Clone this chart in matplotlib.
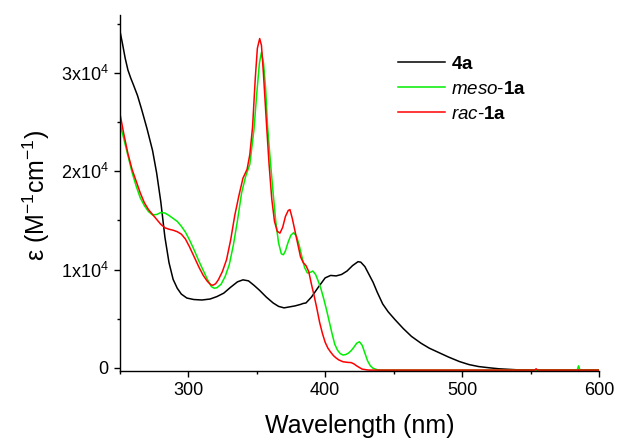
import matplotlib
matplotlib.use("Agg")
import matplotlib.pyplot as plt
from matplotlib.ticker import MultipleLocator, FuncFormatter

plt.rcParams["font.family"] = ["Liberation Sans", "DejaVu Sans"]
plt.rcParams["mathtext.fontset"] = "custom"
plt.rcParams["mathtext.rm"] = "Liberation Sans"
plt.rcParams["mathtext.it"] = "Liberation Sans:italic"
plt.rcParams["mathtext.bf"] = "Liberation Sans:bold"

# 4a
wl_4a = [250, 252, 254, 256, 258, 260, 263, 266, 270, 274, 277, 280, 283, 286,
         289, 292, 295, 299, 304, 310, 316, 321, 326, 331, 336, 340, 344, 348,
         352, 357, 362, 366, 370, 374, 378, 382, 384, 386, 390, 395, 400, 404,
         408, 412, 416, 420, 424, 426, 429, 432, 435, 438, 442, 446, 451, 457,
         463, 470, 476, 483, 490, 498, 505, 512, 520, 527, 540, 560, 600]
eps_4a = [34400, 33000, 31500, 30300, 29500, 28800, 27700, 26300, 24300, 22100,
          19800, 16900, 13300, 10700, 9000, 8100, 7500, 7100, 6950, 6900, 7000,
          7250, 7600, 8200, 8750, 8950, 8850, 8400, 7900, 7200, 6600, 6250, 6100,
          6200, 6300, 6450, 6550, 6600, 7200, 8200, 9150, 9400, 9350, 9500, 9850,
          10400, 10800, 10750, 10300, 9500, 8700, 7700, 6500, 5700, 4900, 4000,
          3200, 2500, 2000, 1550, 1100, 640, 330, 130, 0, -100, -200, -230, -230]

# meso-1a
wl_meso = [250, 253, 256, 259, 262, 265, 268, 271, 274, 277, 280, 283, 286, 289,
           292, 295, 298, 301, 304, 308, 311, 314, 317, 319, 321, 324, 327, 330,
           333, 336, 339, 342, 345, 348, 350, 352, 353.5, 355, 356.5, 358, 360,
           362, 364, 366, 368, 369.5, 371, 373, 375, 377, 379, 381, 383, 385, 387,
           389, 391, 393, 395, 397, 399, 401, 403, 405, 407, 409, 411, 413, 415,
           417, 419, 421, 423, 425, 427, 429, 431, 433, 435, 438, 440, 584, 585,
           586, 600]
eps_meso = [25000, 23300, 21600, 19900, 18500, 17300, 16500, 15900, 15550, 15600,
            15800, 15750, 15500, 15200, 14900, 14400, 13800, 13000, 12100, 10800,
            9900, 9000, 8250, 8100, 8150, 8500, 9300, 10500, 12500, 15000, 17800,
            19500, 20700, 24200, 27800, 31000, 32100, 31000, 28500, 24500, 21000,
            17800, 14800, 12700, 11600, 11500, 11900, 12800, 13500, 13750, 13400,
            12500, 11300, 10200, 9650, 9700, 9850, 9500, 8800, 8000, 7000, 5900,
            4700, 3500, 2400, 1800, 1450, 1300, 1350, 1500, 1750, 2100, 2500, 2650,
            2300, 1500, 700, 200, -50, -200, -230, -230, 200, -230, -230]

# rac-1a
wl_rac = [250, 253, 256, 259, 262, 265, 268, 271, 274, 277, 280, 283, 286, 289,
          292, 295, 298, 301, 304, 308, 311, 314, 316.5, 318, 320, 322, 325, 328,
          331, 334, 337, 340, 343, 345, 347, 349, 350.5, 352.2, 353.5, 355, 357,
          359, 361, 363, 365, 367, 369, 371, 373, 374.3, 376, 378, 380, 382, 384,
          386, 388, 390, 392, 394, 396, 398, 400, 402, 404, 406, 408, 410, 413,
          416, 419, 421, 423, 425, 427, 430, 432, 553, 554, 555, 600]
eps_rac = [26000, 23800, 21800, 20200, 19000, 17800, 16800, 16100, 15600, 15100,
           14600, 14250, 14100, 14000, 13850, 13600, 13100, 12300, 11400, 10200,
           9400, 8800, 8450, 8400, 8550, 8950, 9800, 11000, 13000, 15500, 17500,
           19300, 20200, 21700, 24500, 29500, 32500, 33500, 32800, 29800, 25200,
           20800, 17200, 14900, 13900, 13700, 14300, 15400, 16000, 16100, 15200,
           13900, 12600, 11300, 10700, 10400, 9800, 8500, 7300, 6000, 4600, 3500,
           2600, 2000, 1600, 1250, 1000, 800, 620, 560, 530, 400, 200, 30, -130,
           -200, -230, -230, -100, -230, -230]


def sci_label(v, pos):
    n = int(round(v / 1e4))
    if n == 0:
        return "0"
    return f"{n}x10$^{{4}}$"


fig = plt.figure(figsize=(6.17, 4.40), dpi=100)
ax = fig.add_axes([0.194, 0.156, 0.777, 0.810])

ax.plot(wl_4a, eps_4a, color="black", lw=1.1, label=r"$\mathbf{4a}$")
ax.plot(wl_meso, eps_meso, color="#00ee00", lw=1.1,
        label=r"$\mathit{meso}$-$\mathbf{1a}$")
ax.plot(wl_rac, eps_rac, color="#ff0000", lw=1.1,
        label=r"$\mathit{rac}$-$\mathbf{1a}$")

ax.set_xlim(250, 600)
ax.set_ylim(-360, 35900)
ax.spines["top"].set_visible(False)
ax.spines["right"].set_visible(False)
for s in ("left", "bottom"):
    ax.spines[s].set_linewidth(1.0)

ax.xaxis.set_major_locator(MultipleLocator(100))
ax.xaxis.set_minor_locator(MultipleLocator(50))
ax.yaxis.set_major_locator(MultipleLocator(10000))
ax.yaxis.set_minor_locator(MultipleLocator(5000))
ax.yaxis.set_major_formatter(FuncFormatter(sci_label))
ax.tick_params(which="major", direction="out", length=4, width=1.0,
               labelsize=13, pad=4)
ax.tick_params(which="minor", direction="out", length=2.5, width=1.0)

ax.set_xlabel("Wavelength (nm)", fontsize=18)
ax.set_ylabel(r"ε (M$^{-1}$cm$^{-1}$)", fontsize=18)
ax.xaxis.set_label_coords(0.501, -0.119)
ax.yaxis.set_label_coords(-0.142, 0.495)

ax.legend(loc="upper left", bbox_to_anchor=(0.645, 0.873),
          bbox_transform=fig.transFigure, frameon=False, fontsize=13.5,
          borderaxespad=0, borderpad=0, handlelength=2.5, handletextpad=0.33,
          labelspacing=0.42)

fig.savefig("out.png", dpi=100)
